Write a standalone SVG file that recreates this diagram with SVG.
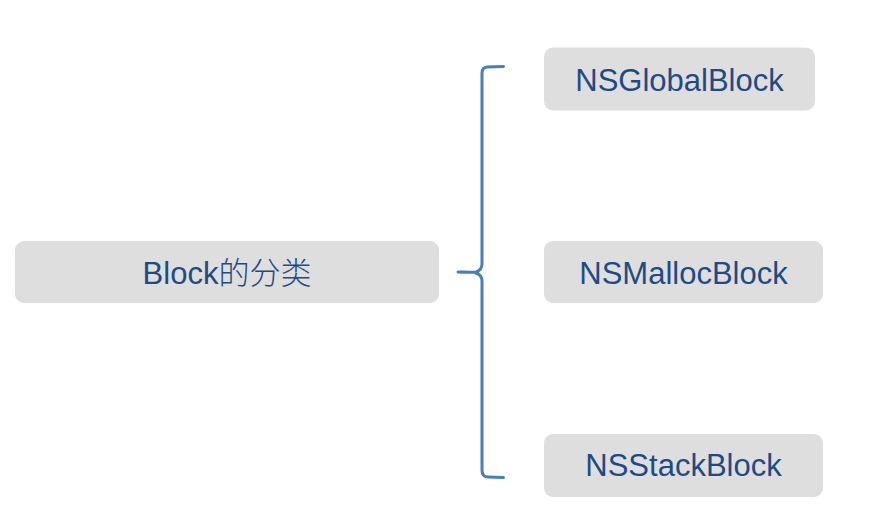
<svg xmlns="http://www.w3.org/2000/svg" width="878" height="522" viewBox="0 0 878 522">
<style>
.box{fill:#dedede;}
.lbl{font-family:"Helvetica","Liberation Sans","Noto Sans CJK SC",sans-serif;font-size:31px;fill:#1f4b85;text-anchor:middle;}
.cjk{font-family:"Noto Sans CJK SC",sans-serif;font-weight:300;}
.br{fill:none;stroke:#4a7ebb;stroke-width:3;stroke-linecap:round;stroke-linejoin:round;}
</style>
<rect width="878" height="522" fill="#ffffff"/>
<g id="root">
<rect class="box" x="15" y="241" width="424" height="62" rx="9"/>
<text class="lbl" x="227" y="283.5">Block<tspan class="cjk">的分类</tspan></text>
</g>
<g id="global">
<rect class="box" x="544" y="47.5" width="271" height="63" rx="9"/>
<text class="lbl" x="679.5" y="90.5">NSGlobalBlock</text>
</g>
<g id="malloc">
<rect class="box" x="544" y="241" width="279" height="62" rx="9"/>
<text class="lbl" x="683.5" y="284">NSMallocBlock</text>
</g>
<g id="stack">
<rect class="box" x="544" y="434" width="279" height="63" rx="9"/>
<text class="lbl" x="683.5" y="476">NSStackBlock</text>
</g>
<g id="connectors">
<path class="br" d="M503.5,66.5 L487,67 Q482,67.5 482,73 L482,264 Q482,270 476,272 Q470,272.5 458,272 Q470,271.5 476,273 Q482,275 482,281 L482,470 Q482,477 488,477 L503.5,477.5"/>
</g>
</svg>
